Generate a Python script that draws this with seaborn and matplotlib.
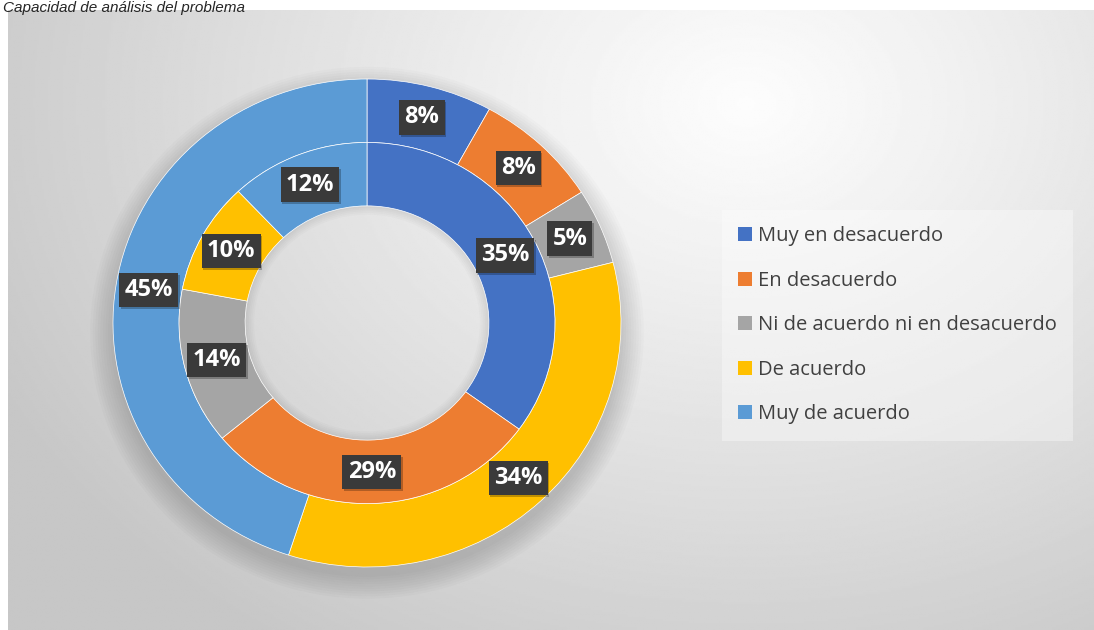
import numpy as np
import seaborn as sns
import matplotlib.pyplot as plt
from matplotlib.patches import Patch, Wedge

sns.set_theme(style="white")
plt.rcParams['font.family'] = ['Open Sans', 'DejaVu Sans']

categories = ['Muy en desacuerdo', 'En desacuerdo', 'Ni de acuerdo ni en desacuerdo',
              'De acuerdo', 'Muy de acuerdo']
outer_vals = [8, 8, 5, 34, 45]
inner_vals = [35, 29, 14, 10, 12]
title = 'Capacidad de análisis del problema'

colors = sns.color_palette(['#4472C4', '#ED7D31', '#A5A5A5', '#FFC000', '#5B9BD5'])

W, H = 1094, 630
fig = plt.figure(figsize=(W / 100, H / 100), dpi=100)
fig.patch.set_facecolor('white')

# chart area background: soft radial gradient
bg = fig.add_axes([8 / W, 0, 1 - 8 / W, 1 - 10 / H])
yy, xx = np.mgrid[0:1:300j, 0:1:500j]
d = np.sqrt(((xx - 0.68) * 1.5) ** 2 + ((yy - 0.15) * 1.1) ** 2)
shade = 0.99 - 0.21 * np.clip(d / 1.15, 0, 1) ** 1.1
bg.imshow(shade, cmap='gray', vmin=0, vmax=1, aspect='auto', extent=[0, 1, 1, 0])
bg.set_axis_off()

fig.text(3 / W, 1 - 1 / H, title, fontsize=11, style='italic',
         family='Liberation Sans', va='top', ha='left', zorder=10)

# donut (slightly wider than tall, as in the reference)
cx, cy, RX, RY = 367, 307, 254, 244
ax = fig.add_axes([(cx - RX) / W, (cy - RY) / H, 2 * RX / W, 2 * RY / H])
ax.set_axis_off()

w = 0.26
r_in = 1 - w

# soft shadow, mostly below the ring
for k in range(10):
    ax.add_patch(Wedge((0, -0.04), 1.0 + 0.01 * k, 0, 360, width=0.06 + 0.01 * k,
                       color='black', alpha=0.016, lw=0, zorder=0, clip_on=False))
for k in range(5):
    ax.add_patch(Wedge((0, 0.0), r_in - w, 0, 360, width=0.008 + 0.007 * k,
                       color='black', alpha=0.015, lw=0, zorder=0, clip_on=False))

ax.pie(outer_vals, radius=1, colors=colors, startangle=90, counterclock=False,
       wedgeprops=dict(width=w, edgecolor='white', linewidth=0.5))
ax.pie(inner_vals, radius=r_in, colors=colors, startangle=90, counterclock=False,
       wedgeprops=dict(width=w, edgecolor='white', linewidth=0.5))
ax.set_aspect('auto')
ax.set_xlim(-1, 1)
ax.set_ylim(-1, 1)


def add_labels(vals, r_mid):
    total = sum(vals)
    start = 90.0
    for v in vals:
        ang = start - 360 * v / total / 2
        start -= 360 * v / total
        x, y = r_mid * np.cos(np.radians(ang)), r_mid * np.sin(np.radians(ang))
        ax.text(x + 0.006, y - 0.008, f'{v}%', ha='center', va='center',
                color='none', fontsize=17, fontweight='bold', zorder=4,
                bbox=dict(boxstyle='square,pad=0.22', facecolor='black',
                          alpha=0.25, edgecolor='none'))
        ax.text(x, y, f'{v}%', ha='center', va='center', color='white',
                fontsize=17, fontweight='bold', zorder=5,
                bbox=dict(boxstyle='square,pad=0.22', facecolor='#3a3a3a',
                          edgecolor='none'))


add_labels(outer_vals, 1 - w / 2)
add_labels(inner_vals, r_in - w / 2)

handles = [Patch(facecolor=c, edgecolor='none') for c in colors]
leg = fig.legend(handles, categories, loc='upper left',
                 bbox_to_anchor=(722 / W, 1 - 210 / H), frameon=True,
                 prop={'family': 'Open Sans', 'size': 14.5}, labelspacing=1.22,
                 handlelength=0.7, handleheight=0.7, handletextpad=0.3,
                 borderpad=0.8, borderaxespad=0, fancybox=False,
                 labelcolor='#404040')
leg.get_frame().set_facecolor('white')
leg.get_frame().set_alpha(0.35)
leg.get_frame().set_edgecolor('none')

fig.savefig('out.png', dpi=100)
